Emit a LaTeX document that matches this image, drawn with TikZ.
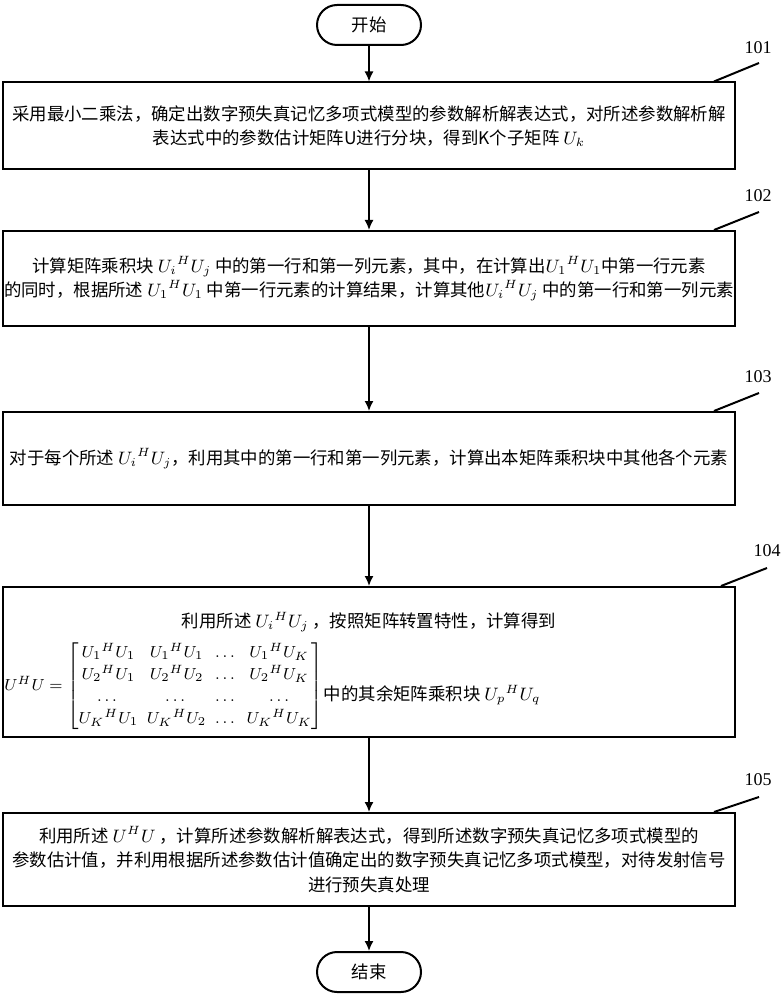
\documentclass[tikz,border=0pt]{standalone}
\usepackage{amsmath}
\usepackage{fontspec}
\setmainfont{Liberation Serif}
\newfontfamily\cjk{Noto Sans CJK SC}
\usetikzlibrary{arrows.meta}

\tikzset{
  stepbox/.style={draw, line width=1pt, minimum width=366pt, inner sep=0pt,
    align=center, font=\cjk\fontsize{8.7}{12.2}\selectfont},
  termbox/.style={draw, line width=1pt, rounded corners=10pt, minimum width=52pt,
    minimum height=20pt, font=\cjk\fontsize{8.7}{11}\selectfont},
  flow/.style={-{Latex[length=5pt,width=4.5pt]}, line width=0.8pt},
  tag/.style={font=\fontsize{9}{11}\selectfont},
  tagline/.style={line width=1pt},
  plain/.style={inner sep=0pt, font=\cjk\fontsize{8.7}{12.2}\selectfont},
}

\begin{document}
\begin{tikzpicture}[x=0.5pt,y=-0.5pt]
    \useasboundingbox (0,0) rectangle (781,1000);
    % start / end
    \node[termbox] (start) at (369,25) {开始};
    \node[termbox] (stop) at (369,972) {结束};
    % steps
    \node[stepbox, minimum height=43.5pt] (s101) at (369,126)
        {采用最小二乘法，确定出数字预失真记忆多项式模型的参数解析解表达式，对所述参数解析解\\
         表达式中的参数估计矩阵U进行分块，得到K个子矩阵 $U_k$};
    \node[stepbox, minimum height=47.5pt] (s102) at (369,278.5)
        {计算矩阵乘积块 $U_i{}^H U_j$ 中的第一行和第一列元素，其中，在计算出$U_1{}^H U_1$中第一行元素\\
         的同时，根据所述 $U_1{}^H U_1$ 中第一行元素的计算结果，计算其他$U_i{}^H U_j$ 中的第一行和第一列元素};
    \node[stepbox, minimum height=46.5pt] (s103) at (369,458.5)
        {对于每个所述 $U_i{}^H U_j$，利用其中的第一行和第一列元素，计算出本矩阵乘积块中其他各个元素};
    \node[stepbox, minimum height=75pt] (s104) at (369,662) {};
    \node[stepbox, minimum height=46.5pt] (s105) at (369,859.5)
        {利用所述 $U^H U$ ，计算所述参数解析解表达式，得到所述数字预失真记忆多项式模型的\\
         参数估计值，并利用根据所述参数估计值确定出的数字预失真记忆多项式模型，对待发射信号\\
         进行预失真处理};
    % contents of 104
    \node[plain] (r104a) at (369,622) {利用所述 $U_i{}^H U_j$ ，按照矩阵转置特性，计算得到};
    \node[plain, anchor=west, font=\fontsize{8}{11}\selectfont] (r104b) at (4,686)
        {\setlength{\arraycolsep}{2.2pt}%
         $U^H U = \begin{bmatrix}
            U_1{}^H U_1 & U_1{}^H U_1 & \dots & U_1{}^H U_K \\
            U_2{}^H U_1 & U_2{}^H U_2 & \dots & U_2{}^H U_K \\
            \dots & \dots & \dots & \dots \\
            U_K{}^H U_1 & U_K{}^H U_2 & \dots & U_K{}^H U_K
          \end{bmatrix}$};
    \node[plain, anchor=west] (r104c) at (r104b.east |- 0,695) {中的其余矩阵乘积块 $U_p{}^H U_q$};
    % arrows
    \draw[flow] (start) -- (s101);
    \draw[flow] (s101) -- (s102);
    \draw[flow] (s102) -- (s103);
    \draw[flow] (s103) -- (s104);
    \draw[flow] (s104) -- (s105);
    \draw[flow] (s105) -- (stop);
    % step numbers
    \node[tag] (t101) at (758,48) {101};
    \coordinate (e101) at (759,63);
    \draw[tagline] ([xshift=-11pt]s101.north east) -- (e101);
    \node[tag] (t102) at (758,196) {102};
    \coordinate (e102) at (759,212);
    \draw[tagline] ([xshift=-11pt]s102.north east) -- (e102);
    \node[tag] (t103) at (758,377) {103};
    \coordinate (e103) at (759,393);
    \draw[tagline] ([xshift=-11pt]s103.north east) -- (e103);
    \node[tag] (t104) at (767,551) {104};
    \coordinate (e104) at (767,568);
    \draw[tagline] ([xshift=-7.5pt]s104.north east) -- (e104);
    \node[tag] (t105) at (758,780) {105};
    \coordinate (e105) at (759,797);
    \draw[tagline] ([xshift=-11pt]s105.north east) -- (e105);
\end{tikzpicture}
\end{document}
